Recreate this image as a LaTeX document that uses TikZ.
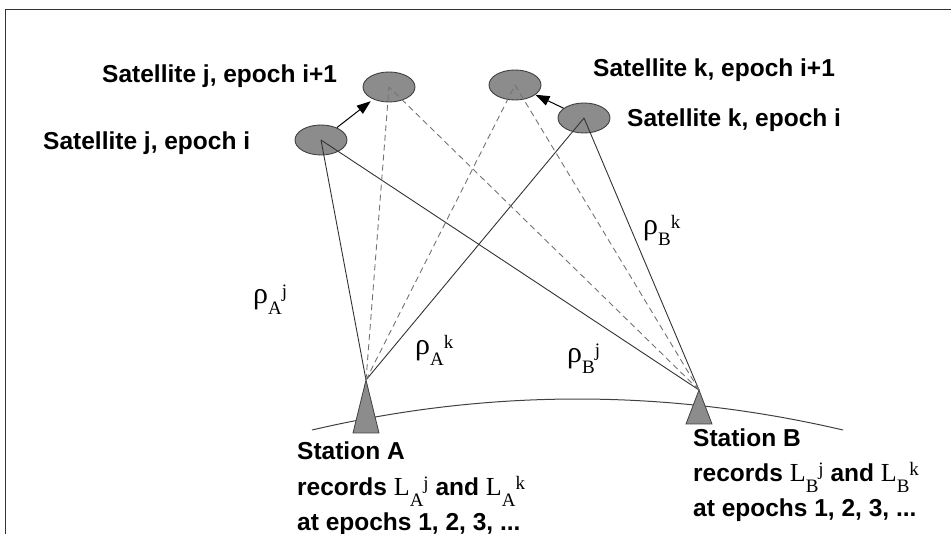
\documentclass[tikz,border=0pt]{standalone}
\usepackage{fontspec}
\setmainfont{Liberation Sans}
\newfontfamily\serifrm{Liberation Serif}
\usetikzlibrary{arrows.meta,shapes.geometric}

\newcommand{\rholab}[2]{{\serifrm\mdseries\fontsize{30}{30}\selectfont ρ}%
 \raisebox{-11pt}{\serifrm\mdseries\fontsize{19}{19}\selectfont #1}%
 \raisebox{6pt}{\serifrm\mdseries\fontsize{19}{19}\selectfont #2}}
\newcommand{\obslab}[2]{{\serifrm\mdseries\fontsize{26}{26}\selectfont L}%
 \raisebox{-11pt}{\serifrm\mdseries\fontsize{19}{19}\selectfont #1}%
 \raisebox{6pt}{\serifrm\mdseries\fontsize{19}{19}\selectfont #2}}

\begin{document}
\begin{tikzpicture}[
 x=1pt,y=-1pt,font={\fontsize{24.5}{29}\selectfont\bfseries},
 sat/.style={ellipse,draw=black!75,fill=black!45,line width=0.9pt,
             minimum width=52pt,minimum height=30pt,inner sep=0pt},
 station/.style={draw=black!75,fill=black!45,line width=0.8pt},
 earth/.style={draw=black!75,line width=1pt},
 los/.style={draw=black!80,line width=0.9pt},
 losnext/.style={draw=black!55,line width=0.9pt,dash pattern=on 6pt off 4pt},
 move/.style={-{Triangle[length=14pt,width=10pt]},line width=1pt},
 txt/.style={anchor=base west,inner sep=0pt},
 rho/.style={anchor=base west,inner sep=0pt,font=\normalfont}]
\useasboundingbox (0,0) rectangle (951,534);
\draw[draw=black!80,line width=1pt] (5,534) -- (5,10) -- (951,10);
\draw[earth] (312,430) .. controls (489,388.7) and (666,388.7) .. (843,430);
\coordinate (staA) at (366,380);
\coordinate (staB) at (699,390);
\draw[station] (staA) -- ++(-13,53) -- ++(26,0) -- cycle;
\draw[station] (staB) -- ++(-13,34) -- ++(26,0) -- cycle;
\node[sat] (sji) at (321,140) {};
\node[sat] (sji1) at (389,87) {};
\node[sat] (ski1) at (515,85) {};
\node[sat] (ski) at (584,118) {};
\draw[los] (staA) -- (sji.center);
\draw[los] (staA) -- (ski.center);
\draw[los] (staB) -- (sji.center);
\draw[los] (staB) -- (ski.center);
\draw[losnext] (staA) -- (sji1.center);
\draw[losnext] (staA) -- (ski1.center);
\draw[losnext] (staB) -- (sji1.center);
\draw[losnext] (staB) -- (ski1.center);
\draw[move,shorten >=3pt] (sji) -- (sji1);
\draw[move] (ski) -- (ski1);
\node[txt] (labji1) at (102,83) {Satellite j, epoch i+1};
\node[txt] (labji) at (43,150) {Satellite j, epoch i};
\node[txt] (labki1) at (593,77) {Satellite k, epoch i+1};
\node[txt] (labki) at (627,127) {Satellite k, epoch i};
\node[rho] (rAj) at (253,304) {\rholab{A}{j}};
\node[rho] (rAk) at (415,355) {\rholab{A}{k}};
\node[rho] (rBj) at (567,363) {\rholab{B}{j}};
\node[rho] (rBk) at (643,235) {\rholab{B}{k}};
\node[txt] (nameA) at (297,460) {Station A};
\node[txt] (recA) at (297,496) {records \obslab{A}{j} and \obslab{A}{k}};
\node[txt] (epA) at (297,530) {at epochs 1, 2, 3, ...};
\node[txt] (nameB) at (693,447) {Station B};
\node[txt] (recB) at (693,482) {records \obslab{B}{j} and \obslab{B}{k}};
\node[txt] (epB) at (693,517) {at epochs 1, 2, 3, ...};
\end{tikzpicture}
\end{document}
